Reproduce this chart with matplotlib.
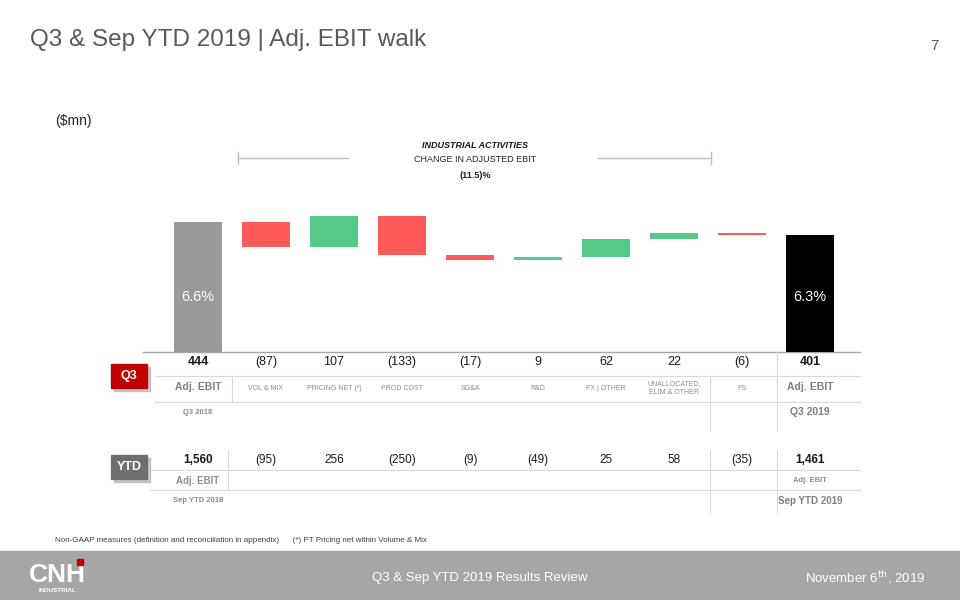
import matplotlib.pyplot as plt
import matplotlib.transforms as mtransforms
from matplotlib.patches import Rectangle

plt.rcParams['font.family'] = ['Liberation Sans', 'DejaVu Sans']

# data
categories = ["Adj. EBIT", "VOL & MIX", "PRICING NET (*)", "PROD COST", "SG&A", "R&D",
              "FX | OTHER", "UNALLOCATED,\nELIM & OTHER", "FS", "Adj. EBIT"]
q3_values = [444, -87, 107, -133, -17, 9, 62, 22, -6, 401]
ytd_values = [1560, -95, 256, -250, -9, -49, 25, 58, -35, 1461]
margins = ["6.6%", "6.3%"]

RED = "#FF5A5A"
GREEN = "#55C98A"
GREY_LINE = "#D9D9D9"


def fmt(v):
    s = f"{abs(v):,}"
    return f"({s})" if v < 0 else s


fig = plt.figure(figsize=(9.6, 6), dpi=100)

# pixel overlay for the slide furniture
ax0 = fig.add_axes([0, 0, 1, 1])
ax0.set_xlim(0, 960)
ax0.set_ylim(600, 0)
ax0.axis("off")

# waterfall axes: zero at y=352px, 10 columns of 68px from x=164
px_per_unit = 130 / 444
ax = fig.add_axes([164 / 960, (600 - 352) / 600, 680 / 960, 162 / 600])
ax.set_xlim(-0.5, len(categories) - 0.5)
ax.set_ylim(0, 162 / px_per_unit)
ax.axis("off")
ax.patch.set_alpha(0)

# bars
n = len(q3_values)
cum = 0
for i, v in enumerate(q3_values):
    if i == 0:
        ax.bar(i, v, width=0.72, color="#999999", zorder=2)
        cum = v
    elif i == n - 1:
        ax.bar(i, v, width=0.72, color="black", zorder=2)
    else:
        bottom = min(cum, cum + v)
        ax.bar(i, abs(v), bottom=bottom, width=0.72,
               color=GREEN if v > 0 else RED, zorder=2)
        cum += v

ax.text(0, q3_values[0] * 0.42, margins[0], ha="center", va="center", color="white", fontsize=10.5)
ax.text(n - 1, q3_values[0] * 0.42, margins[1], ha="center", va="center", color="white", fontsize=10.5)

# column x in data coords, y in pixels
tr = mtransforms.blended_transform_factory(ax.transData, ax0.transData)

# table lines
ax0.plot([143, 860], [352, 352], color="#A6A6A6", lw=1)
ax0.plot([155, 860], [376, 376], color=GREY_LINE, lw=0.8)
ax0.plot([155, 860], [402, 402], color=GREY_LINE, lw=0.8)
ax0.plot([232, 232], [376, 402], color=GREY_LINE, lw=0.8)
ax0.plot([710, 710], [376, 430], color=GREY_LINE, lw=0.8)
ax0.plot([777, 777], [352, 430], color=GREY_LINE, lw=0.8)

ax0.plot([150, 860], [470, 470], color=GREY_LINE, lw=0.8)
ax0.plot([150, 860], [490, 490], color=GREY_LINE, lw=0.8)
ax0.plot([228, 228], [450, 490], color=GREY_LINE, lw=0.8)
ax0.plot([710, 710], [450, 512], color=GREY_LINE, lw=0.8)
ax0.plot([777, 777], [450, 512], color=GREY_LINE, lw=0.8)

# Q3 rows
for i, v in enumerate(q3_values):
    bold = i in (0, n - 1)
    ax0.text(i, 362, fmt(v), transform=tr, ha="center", va="center", fontsize=9,
             fontweight="bold" if bold else "normal", color="#1A1A1A")
    if bold:
        ax0.text(i, 387, categories[i], transform=tr, ha="center", va="center",
                 fontsize=7.5, fontweight="bold", color="#7F7F7F")
    else:
        ax0.text(i, 388, categories[i], transform=tr, ha="center", va="center",
                 fontsize=5, color="#8C8C8C", linespacing=1.3)
ax0.text(0, 412, "Q3 2018", transform=tr, ha="center", va="center", fontsize=5.5,
         fontweight="bold", color="#8C8C8C")
ax0.text(n - 1, 412, "Q3 2019", transform=tr, ha="center", va="center", fontsize=7.5,
         fontweight="bold", color="#7F7F7F")

# YTD rows
for i, v in enumerate(ytd_values):
    bold = i in (0, n - 1)
    ax0.text(i, 460, fmt(v), transform=tr, ha="center", va="center", fontsize=8.5,
             fontweight="bold" if bold else "normal", color="#1A1A1A")
ax0.text(0, 481, "Adj. EBIT", transform=tr, ha="center", va="center", fontsize=7,
         fontweight="bold", color="#8C8C8C")
ax0.text(n - 1, 481, "Adj. EBIT", transform=tr, ha="center", va="center", fontsize=5.5,
         fontweight="bold", color="#8C8C8C")
ax0.text(0, 501, "Sep YTD 2018", transform=tr, ha="center", va="center", fontsize=5.5,
         fontweight="bold", color="#8C8C8C")
ax0.text(n - 1, 501, "Sep YTD 2019", transform=tr, ha="center", va="center", fontsize=7,
         fontweight="bold", color="#7F7F7F")

# badges
ax0.add_patch(Rectangle((114, 367), 36, 24, color="#9A9A9A", alpha=0.5, zorder=3))
ax0.add_patch(Rectangle((111, 364), 36, 24, color="#C00000", zorder=4))
ax0.text(129, 376, "Q3", ha="center", va="center", color="white", fontsize=9,
         fontweight="bold", zorder=5)
ax0.add_patch(Rectangle((114, 458), 36, 24, color="#9A9A9A", alpha=0.5, zorder=3))
ax0.add_patch(Rectangle((111, 455), 36, 24, color="#6E6E6E", zorder=4))
ax0.text(129, 467, "YTD", ha="center", va="center", color="white", fontsize=9,
         fontweight="bold", zorder=5)

# header
ax0.text(30, 40, "Q3 & Sep YTD 2019 | Adj. EBIT walk", ha="left", va="center",
         fontsize=17.5, color="#595959")
ax0.text(934, 46, "7", ha="center", va="center", fontsize=11, color="#595959")
ax0.text(55, 121, "($mn)", ha="left", va="center", fontsize=10, color="#262626")

# industrial activities bracket
ax0.text(475, 145, "INDUSTRIAL ACTIVITIES", ha="center", va="center", fontsize=6.5,
         fontweight="bold", fontstyle="italic", color="#1A1A1A")
ax0.text(475, 160, "CHANGE IN ADJUSTED EBIT", ha="center", va="center", fontsize=6.5,
         color="#262626")
ax0.text(475, 176, "(11.5)%", ha="center", va="center", fontsize=6.5,
         fontweight="bold", color="#262626")
ax0.plot([238, 348], [158, 158], color="#BFBFBF", lw=1)
ax0.plot([598, 711], [158, 158], color="#BFBFBF", lw=1)
ax0.plot([238, 238], [152, 164], color="#BFBFBF", lw=1)
ax0.plot([711, 711], [152, 164], color="#BFBFBF", lw=1)

# footnote
ax0.text(55, 541, "Non-GAAP measures (definition and reconciliation in appendix)      "
         "(*) PT Pricing net within Volume & Mix", ha="left", va="center",
         fontsize=5.8, color="#404040")

# footer band
ax0.add_patch(Rectangle((0, 551), 960, 49, color="#A6A6A6", zorder=1))
ax0.text(480, 578, "Q3 & Sep YTD 2019 Results Review", ha="center", va="center",
         fontsize=9.5, color="white", zorder=2)
ax0.text(925, 578, "November 6$^{\\mathrm{th}}$, 2019", ha="right", va="center",
         fontsize=9.5, color="white", zorder=2)
ax0.text(57, 575, "CNH", ha="center", va="center", fontsize=19, fontweight="bold",
         color="white", zorder=2)
ax0.text(57, 590, "INDUSTRIAL", ha="center", va="center", fontsize=4.5,
         fontweight="bold", color="white", zorder=2)
ax0.add_patch(Rectangle((77, 559), 6, 6, color="#C00000", zorder=2))

fig.savefig("out.png", dpi=100)
